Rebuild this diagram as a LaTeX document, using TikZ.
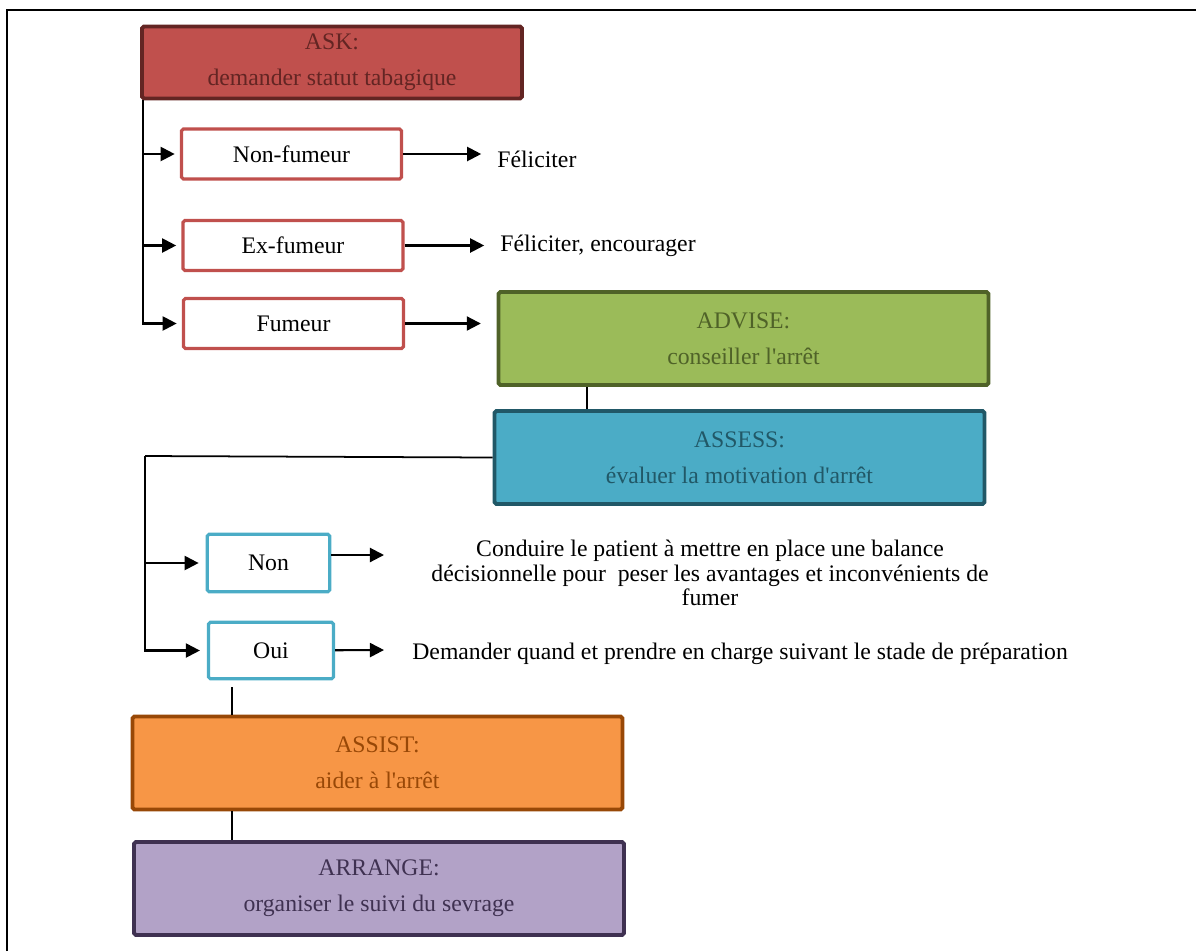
\documentclass[tikz,border=0pt]{standalone}
\usepackage{fontspec}
\setmainfont{Liberation Serif}
\usetikzlibrary{arrows.meta, positioning}
\definecolor{askfill}{HTML}{C0504D}
\definecolor{askline}{HTML}{632523}
\definecolor{advisefill}{HTML}{9BBB59}
\definecolor{adviseline}{HTML}{4F6228}
\definecolor{assessfill}{HTML}{4BACC6}
\definecolor{assessline}{HTML}{215867}
\definecolor{assistfill}{HTML}{F79646}
\definecolor{assistline}{HTML}{984807}
\definecolor{arrangefill}{HTML}{B2A2C7}
\definecolor{arrangeline}{HTML}{3F3151}

\begin{document}
\begin{tikzpicture}[
    x=0.02cm, y=-0.02cm,
    phase/.style={draw, line width=2.2pt, rounded corners=1pt, minimum width=9.8cm, minimum height=1.86cm, align=center, font=\fontsize{13.5}{20.5}\selectfont},
    answer/.style={draw, line width=1.8pt, fill=white, rounded corners=1pt, minimum width=4.4cm, minimum height=1cm, font=\fontsize{13.5}{15}\selectfont},
    note/.style={align=center, inner sep=0pt, font=\fontsize{13.5}{14}\selectfont},
    arrow/.style={-{Triangle[length=8pt, width=8pt]}, line width=1.2pt},
    link/.style={line width=1pt}
]
    \useasboundingbox (0,0) rectangle (1196,951);
    % frame
    \draw[line width=1.5pt] (7,951) -- (7,10) -- (1196,10);

    % ASK
    \node[phase, fill=askfill, draw=askline, text=askline, minimum width=7.6cm, minimum height=1.44cm] (ask) at (332,62.5) {ASK:\\demander statut tabagique};

    % smoking status
    \node[answer, draw=askfill] (nonfum) at (291.5,154) {Non-fumeur};
    \node[answer, draw=askfill] (exfum) at (293,245.5) {Ex-fumeur};
    \node[answer, draw=askfill] (fum) at (293.5,323.5) {Fumeur};

    \node[note, anchor=west] (felic) at (497,159) {Féliciter};
    \node[note, anchor=west] (felicenc) at (500,246) {Féliciter, encourager};

    % ADVISE / ASSESS
    \node[phase, fill=advisefill, draw=adviseline, text=adviseline] (advise) at (743.5,338.5) {ADVISE:\\conseiller l\textquotesingle arrêt};
    \node[phase, fill=assessfill, draw=assessline, text=assessline] (assess) at (739.5,457.5) {ASSESS:\\évaluer la motivation d\textquotesingle arrêt};

    % motivation
    \node[answer, draw=assessfill, minimum width=2.45cm, minimum height=1.15cm] (non) at (268.5,563) {Non};
    \node[answer, draw=assessfill, minimum width=2.5cm, minimum height=1.13cm] (oui) at (271,650.5) {Oui};

    \node[note] (conduire) at (710,573) {Conduire le patient à mettre en place une balance\\décisionnelle pour\ \ peser les avantages et inconvénients de\\fumer};
    \node[note, anchor=west] (demander) at (412,654) {Demander quand et prendre en charge suivant le stade de préparation};

    % ASSIST / ARRANGE
    \node[phase, fill=assistfill, draw=assistline, text=assistline] (assist) at (377.5,763) {ASSIST:\\aider à l\textquotesingle arrêt};
    \node[phase, fill=arrangefill, draw=arrangeline, text=arrangeline] (arrange) at (379,888.5) {ARRANGE:\\organiser le suivi du sevrage};

    % branch points
    \coordinate (askfoot) at ([xshift=-3.78cm]ask.south);
    \coordinate (assessfoot) at (145,456);
    \coordinate (nontip) at (384,555);
    \coordinate (ouitip) at (384,650);

    % arrows
    \draw[arrow, shorten >=3pt] (askfoot) |- (nonfum.west);
    \draw[arrow, shorten >=3pt] (askfoot) |- (exfum.west);
    \draw[arrow, shorten >=3pt] (askfoot) |- (fum.west);
    \draw[arrow, shorten >=9pt] (nonfum) -- (nonfum -| felic.west);
    \draw[arrow, shorten >=9pt] (exfum) -- (exfum -| felicenc.west);
    \draw[arrow, shorten >=9pt] (fum) -- (fum -| advise.west);
    \draw[link] ([xshift=-3.13cm]advise.south) -- ([xshift=-3.13cm]advise.south |- assess.north);
    \draw[link] (assess.west) -- (assessfoot);
    \draw[arrow, shorten >=4pt] (assessfoot) |- (non.west);
    \draw[arrow, shorten >=4pt] (assessfoot) |- (oui.west);
    \draw[arrow] (non.east |- nontip) -- (nontip);
    \draw[arrow] (oui) -- (ouitip);
    \draw[link, shorten <=4pt] ([xshift=-0.78cm]oui.south) -- ([xshift=-0.78cm]oui.south |- assist.north);
    \draw[link] ([xshift=-2.91cm]assist.south) -- ([xshift=-2.91cm]assist.south |- arrange.north);
\end{tikzpicture}
\end{document}
